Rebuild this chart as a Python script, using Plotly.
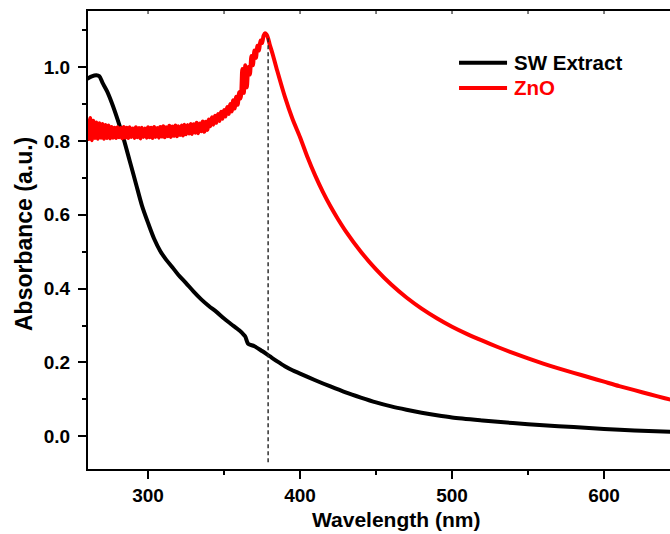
import plotly.graph_objects as go

# ---- SW Extract absorbance spectrum ----
sw_nm = [260, 263, 266, 268, 270, 273, 276, 280, 284, 288, 292, 296, 300, 304, 308,
         312, 316, 320, 325, 330, 335, 340, 345, 350, 355, 360, 363, 364, 365, 366,
         370, 375, 380, 385, 390, 395, 400, 410, 420, 430, 440, 450, 460, 470, 480,
         490, 500, 520, 540, 560, 580, 600, 620, 645]
sw_abs = [0.968, 0.975, 0.978, 0.975, 0.958, 0.935, 0.905, 0.858, 0.805, 0.745, 0.685,
          0.625, 0.578, 0.535, 0.502, 0.478, 0.458, 0.437, 0.415, 0.392, 0.371, 0.353,
          0.337, 0.319, 0.303, 0.287, 0.275, 0.270, 0.258, 0.250, 0.244, 0.231, 0.217,
          0.203, 0.190, 0.179, 0.170, 0.152, 0.135, 0.119, 0.105, 0.092, 0.081, 0.072,
          0.064, 0.057, 0.051, 0.043, 0.036, 0.030, 0.025, 0.020, 0.016, 0.012]

# ---- ZnO absorbance spectrum (noisy region recorded every 1 nm) ----
zno_nm_noisy = list(range(260, 381))
zno_abs_noisy = [
    # 260-275
    0.860, 0.805, 0.862, 0.802, 0.855, 0.808, 0.850, 0.806, 0.848, 0.809, 0.846, 0.806,
    0.843, 0.808, 0.842, 0.807,
    # 276-300
    0.838, 0.809, 0.836, 0.808, 0.837, 0.810, 0.835, 0.807, 0.838, 0.809, 0.836, 0.808,
    0.837, 0.811, 0.834, 0.808, 0.837, 0.810, 0.835, 0.807, 0.836, 0.811, 0.834, 0.809,
    0.837,
    # 301-320
    0.810, 0.836, 0.808, 0.838, 0.811, 0.835, 0.809, 0.838, 0.812, 0.840, 0.810, 0.837,
    0.813, 0.841, 0.811, 0.839, 0.814, 0.842, 0.813, 0.840,
    # 321-340
    0.816, 0.842, 0.815, 0.844, 0.818, 0.843, 0.820, 0.846, 0.819, 0.845, 0.822, 0.849,
    0.821, 0.847, 0.826, 0.853, 0.825, 0.852, 0.830, 0.858,
    # 341-350
    0.840, 0.864, 0.844, 0.868, 0.849, 0.873, 0.854, 0.879, 0.860, 0.884,
    # 351-360
    0.866, 0.892, 0.873, 0.900, 0.880, 0.910, 0.888, 0.920, 0.898, 0.932,
    # 361-366
    0.915, 0.995, 0.930, 1.005, 0.945, 1.000,
    # 367-376
    0.980, 1.030, 1.005, 1.045, 1.025, 1.058, 1.045, 1.072, 1.065, 1.085,
    # 377-380
    1.092, 1.088, 1.078, 1.062,
]
zno_nm_tail = [382, 385, 390, 395, 400, 405, 410, 415, 420, 425, 430, 440, 450, 460,
               470, 480, 490, 500, 510, 520, 530, 540, 550, 560, 570, 580, 590, 600,
               610, 620, 630, 640, 645]
zno_abs_tail = [1.035, 0.990, 0.920, 0.860, 0.810, 0.755, 0.706, 0.662, 0.623, 0.588,
                0.556, 0.500, 0.452, 0.411, 0.376, 0.346, 0.320, 0.297, 0.277, 0.259,
                0.242, 0.226, 0.211, 0.197, 0.184, 0.172, 0.160, 0.148, 0.136, 0.125,
                0.114, 0.103, 0.098]

zno_nm = zno_nm_noisy + zno_nm_tail
zno_abs = zno_abs_noisy + zno_abs_tail

# Absorption maximum marker
peak_nm = 379
peak_span = [-0.070, 1.078]

x_range = [260.5, 643.4]
y_range = [-0.0885, 1.152]
x_ticks = [300, 400, 500, 600]
y_ticks = [0.0, 0.2, 0.4, 0.6, 0.8, 1.0]
top_ticks = [300, 350, 400, 450, 500, 550, 600]

series_names = ["SW Extract", "ZnO"]
series_colors = ["#000000", "#ff0000"]

FONT = "Liberation Sans, Arial, sans-serif"

fig = go.Figure()

fig.add_trace(go.Scatter(x=sw_nm, y=sw_abs, mode="lines", name=series_names[0],
                         line=dict(color=series_colors[0], width=4, shape="spline",
                                   smoothing=0.8),
                         showlegend=False))
fig.add_trace(go.Scatter(x=zno_nm, y=zno_abs, mode="lines", name=series_names[1],
                         line=dict(color=series_colors[1], width=4, shape="spline",
                                   smoothing=0.8),
                         showlegend=False))
fig.add_trace(go.Scatter(x=[peak_nm, peak_nm], y=peak_span, mode="lines",
                         line=dict(color="#222222", width=1.4, dash="4px,3px"),
                         showlegend=False, hoverinfo="skip"))

axis_common = dict(
    showline=True, linecolor="black", linewidth=2,
    ticks="outside", ticklen=8, tickwidth=2, tickcolor="black",
    showgrid=False, zeroline=False,
    tickfont=dict(family=FONT, size=19, color="black", weight="bold"),
)

fig.update_xaxes(range=x_range, tickvals=x_ticks, mirror=True,
                 minor=dict(dtick=50, tick0=0, ticklen=4, tickwidth=2,
                            tickcolor="black", ticks="outside"),
                 **axis_common)
fig.update_yaxes(range=y_range, tickvals=y_ticks, tickformat=".1f", mirror=False,
                 ticklabelstandoff=4,
                 minor=dict(dtick=0.1, tick0=0, ticklen=4, tickwidth=2,
                            tickcolor="black", ticks="outside"),
                 **axis_common)

shapes = []
# small inward ticks along the top frame
for t in top_ticks:
    shapes.append(dict(type="line", xref="x", yref="paper", x0=t, x1=t,
                       y0=1, y1=1 - 3 / 458, line=dict(color="black", width=1)))

# legend keys
legend_x0, legend_x1 = 0.6375, 0.72
legend_rows = [0.887, 0.832]
for name, color, yy in zip(series_names, series_colors, legend_rows):
    shapes.append(dict(type="line", xref="paper", yref="paper",
                       x0=legend_x0, x1=legend_x1, y0=yy, y1=yy,
                       line=dict(color=color, width=4)))

annotations = []
for name, color, yy in zip(series_names, series_colors, legend_rows):
    annotations.append(dict(text=name, xref="paper", yref="paper", x=0.728, y=yy,
                            xanchor="left", yanchor="middle", showarrow=False,
                            font=dict(family=FONT, size=20.5, color=color, weight="bold")))

annotations.append(dict(text="Wavelength (nm)", xref="paper", yref="paper",
                        x=0.529, y=-0.11, xanchor="center", yanchor="middle",
                        showarrow=False,
                        font=dict(family=FONT, size=21, color="black", weight="bold")))
annotations.append(dict(text="Absorbance (a.u.)", xref="paper", yref="paper",
                        x=-0.11, y=0.513, xanchor="center", yanchor="middle",
                        textangle=-90, showarrow=False,
                        font=dict(family=FONT, size=23, color="black", weight="bold")))

fig.update_layout(
    width=670, height=534,
    margin=dict(l=88, r=0, t=11, b=65),
    paper_bgcolor="white", plot_bgcolor="white",
    shapes=shapes, annotations=annotations,
    showlegend=False,
)

fig.write_html("out.html")
